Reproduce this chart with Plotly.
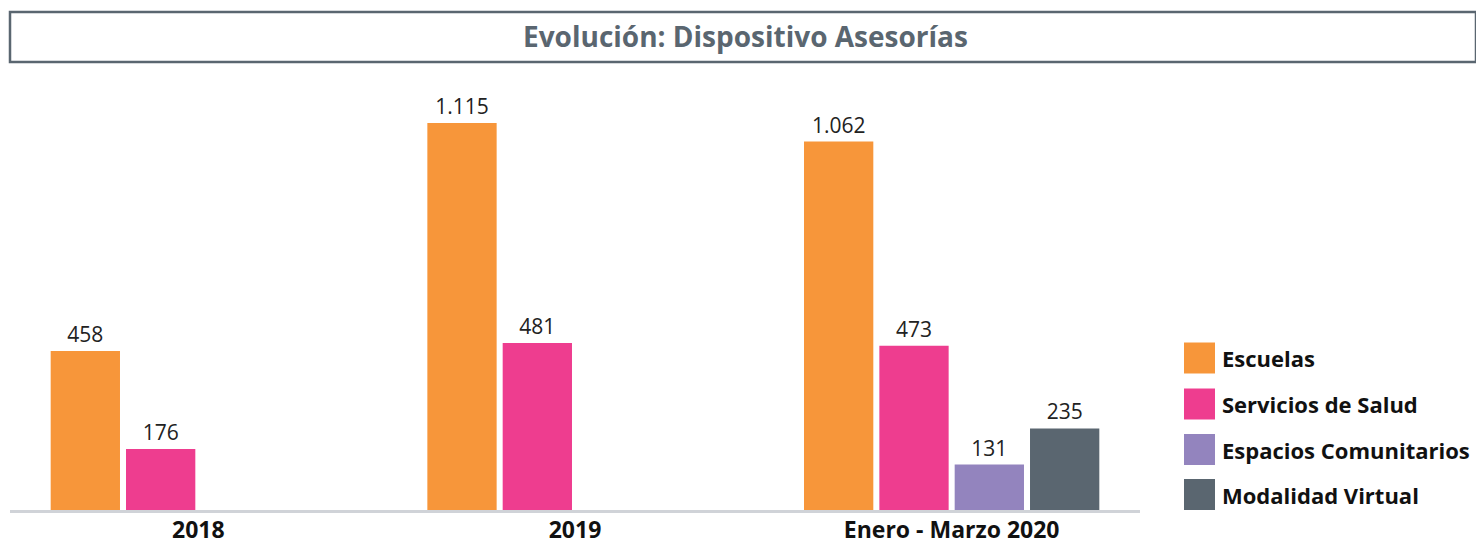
import plotly.graph_objects as go

# data
categories = ["2018", "2019", "Enero - Marzo 2020"]
series_names = ["Escuelas", "Servicios de Salud", "Espacios Comunitarios", "Modalidad Virtual"]
escuelas = [458, 1115, 1062]
servicios_salud = [176, 481, 473]
espacios_comunitarios = [None, None, 131]
modalidad_virtual = [None, None, 235]
colors = ["#F7963A", "#EE3D8F", "#9384BE", "#5A6670"]

values = [escuelas, servicios_salud, espacios_comunitarios, modalidad_virtual]

# page coordinates of the plot area (screen pixels)
PX_L, PX_R, PX_T, PX_B = 10, 1140, 95, 510
W, H = PX_R - PX_L, PX_B - PX_T


def px(x):
    return (x - PX_L) / W


def py(y):
    return (PX_B - y) / H


fig = go.Figure()

for name, vals, color in zip(series_names, values, colors):
    fig.add_trace(go.Bar(
        x=categories,
        y=vals,
        name=name,
        marker=dict(color=color, line=dict(width=0)),
        texttemplate="%{y:,}",
        textposition="outside",
        textfont=dict(size=21, color="#222222", family="Open Sans"),
        cliponaxis=False,
        showlegend=False,
    ))

# custom legend: large squares + bold labels
shapes = []
annotations = []
for name, color, yc in zip(series_names, colors, [358, 404, 449.5, 494.5]):
    shapes.append(dict(
        type="rect", xref="paper", yref="paper",
        x0=px(1184), x1=px(1215),
        y0=py(yc + 15.5), y1=py(yc - 15.5),
        fillcolor=color, line=dict(width=0),
    ))
    annotations.append(dict(
        x=px(1220), y=py(yc), xref="paper", yref="paper",
        text=f"<b>{name}</b>", showarrow=False,
        xanchor="left", yanchor="middle",
        font=dict(size=22, color="#111111", family="Open Sans"),
    ))

# title box
shapes.append(dict(
    type="rect", xref="paper", yref="paper",
    x0=px(10), x1=px(1476),
    y0=py(62), y1=py(12),
    line=dict(color="#5A6670", width=2.5), fillcolor="rgba(0,0,0,0)",
))
annotations.append(dict(
    x=px(745), y=py(36), xref="paper", yref="paper",
    text="<b>Evolución: Dispositivo Asesorías</b>", showarrow=False,
    xanchor="center", yanchor="middle",
    font=dict(size=28, color="#5A6670", family="Open Sans"),
))

# page has an 8px body margin, so the figure is 8px smaller than the window
fig.update_layout(
    width=1476,
    height=539,
    margin=dict(l=PX_L - 8, r=1476 - (PX_R - 8), t=PX_T - 8, b=539 - (PX_B - 8)),
    paper_bgcolor="white",
    plot_bgcolor="white",
    barmode="group",
    bargap=0.2,
    bargroupgap=0.08,
    separators=",.",
    shapes=shapes,
    annotations=annotations,
    xaxis=dict(
        showline=True,
        linecolor="#D0D3D8",
        linewidth=3,
        showgrid=False,
        ticks="",
        automargin=False,
        ticklabelstandoff=-3,
        tickfont=dict(size=23, color="#111111", family="Open Sans"),
        tickprefix="<b>",
        ticksuffix="</b>",
    ),
    yaxis=dict(
        range=[0, 1196],
        visible=False,
        showgrid=False,
        zeroline=False,
    ),
    font=dict(family="Open Sans"),
)

fig.write_html("out.html")
